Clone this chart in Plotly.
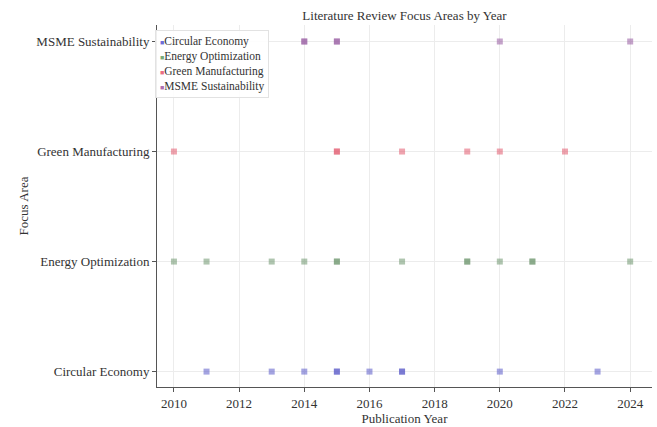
import plotly.graph_objects as go

# Focus areas (y categories) in bottom-to-top order
areas = ["Circular Economy", "Energy Optimization", "Green Manufacturing", "MSME Sustainability"]

# Publication years per focus area (repeated years = several papers that year)
circular_years = [2011, 2013, 2014, 2015, 2015, 2016, 2017, 2017, 2020, 2023]
energy_years = [2010, 2011, 2013, 2014, 2015, 2015, 2017, 2019, 2019, 2020, 2021, 2021, 2024]
green_years = [2010, 2015, 2015, 2017, 2019, 2020, 2022]
msme_years = [2014, 2014, 2015, 2015, 2020, 2024]

year_ticks = [2010, 2012, 2014, 2016, 2018, 2020, 2022, 2024]

series = [
    ("Circular Economy", circular_years, "rgba(90,90,200,0.55)", "rgb(110,110,215)"),
    ("Energy Optimization", energy_years, "rgba(110,150,110,0.55)", "rgb(120,170,120)"),
    ("Green Manufacturing", green_years, "rgba(225,90,110,0.55)", "rgb(235,110,130)"),
    ("MSME Sustainability", msme_years, "rgba(150,90,160,0.55)", "rgb(175,110,175)"),
]

font = "Liberation Serif, Times New Roman, serif"

fig = go.Figure()
for name, years, color, _ in series:
    fig.add_trace(go.Scatter(
        x=years,
        y=[name] * len(years),
        mode="markers",
        name=name,
        showlegend=False,
        marker=dict(symbol="square", size=6, color=color, line=dict(width=0)),
    ))

# Compact legend: small coloured squares right before each label
legend_lines = [
    f"<span style='color:{swatch};font-size:7px'>■</span>{name}"
    for name, _, _, swatch in series
]
fig.add_annotation(
    xref="paper", yref="paper", x=-0.004, y=0.985,
    xanchor="left", yanchor="top", align="left",
    text="<br>".join(legend_lines),
    showarrow=False,
    font=dict(size=11.5, family=font, color="#333"),
    bgcolor="rgba(255,255,255,0.9)", bordercolor="#e2e2e2", borderwidth=1, borderpad=4,
)

fig.update_layout(
    width=657,
    height=427,
    margin=dict(l=157, r=5, t=25, b=37),
    paper_bgcolor="white",
    plot_bgcolor="white",
    font=dict(family=font, size=13, color="#333"),
    title=dict(text="Literature Review Focus Areas by Year", x=0.5, xref="paper",
               y=0.975, yanchor="top", font=dict(size=13, family=font, color="#333")),
    showlegend=False,
)
fig.update_xaxes(
    title=dict(text="Publication Year", font=dict(size=13), standoff=2),
    range=[2009.48, 2024.67],
    tickvals=year_ticks,
    showgrid=True, gridcolor="#ececec", gridwidth=1,
    showline=True, linecolor="#555", linewidth=1,
    ticks="outside", ticklen=4, tickcolor="#555",
    zeroline=False,
)
fig.update_yaxes(
    title=dict(text="Focus Area", font=dict(size=13), standoff=4),
    categoryorder="array", categoryarray=areas,
    range=[-0.14, 3.15],
    showgrid=True, gridcolor="#ececec", gridwidth=1,
    showline=True, linecolor="#555", linewidth=1,
    ticks="outside", ticklen=4, tickcolor="#555",
    zeroline=False,
)

fig.write_html("out.html")
